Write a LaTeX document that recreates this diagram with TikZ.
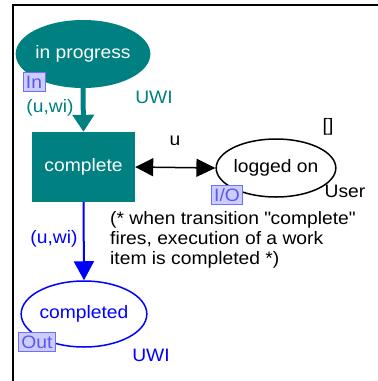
\documentclass[tikz,border=0pt]{standalone}
\usepackage{fontspec}
\setmainfont{Liberation Sans}[FakeStretch=1.07]
\usetikzlibrary{shapes.geometric,arrows.meta}
\newcommand\straightdq{\XeTeXglyph\XeTeXcharglyph"22\relax}
\definecolor{teal}{RGB}{0,128,128}
\definecolor{cpnblue}{RGB}{0,0,255}
\definecolor{tagfill}{RGB}{204,204,255}
\definecolor{tagdraw}{RGB}{110,110,255}
\definecolor{tagtext}{RGB}{90,90,230}
\tikzset{
  every node/.style={font=\fontsize{18}{20}\selectfont, inner sep=0pt},
  place/.style={ellipse, draw, line width=1.5pt},
  trans/.style={rectangle, fill=teal, text=white, minimum width=103pt, minimum height=70pt},
  tag/.style={draw=tagdraw, fill=tagfill, text=tagtext, line width=0.8pt,
              inner xsep=3pt, inner ysep=1pt, minimum height=19pt},
}
\begin{document}
\begin{tikzpicture}[x=1pt,y=-1pt]
\useasboundingbox (0,0) rectangle (378,381);
% frame
\draw[line width=2.5pt] (13,381) -- (13,5) -- (378,5);
% places and transition
\node[ellipse, fill=teal, text=white, minimum width=132pt, minimum height=68pt] (ip) at (83,54) {in progress};
\node[trans] (cp) at (83.5,167) {complete};
\node[place, draw=black, minimum width=118pt, minimum height=58pt] (lo) at (276,168) {logged on};
\node[place, draw=cpnblue, text=cpnblue, minimum width=118pt, minimum height=66pt] (cd) at (84,314) {completed};
% port tags
\node[tag] (tin) at (34,82) {In};
\node[tag] (tio) at (227,195) {I/O};
\node[tag] (tout) at (37,342) {Out};
% types and markings
\node[text=teal] (t1) at (154,97) {UWI};
\node[text=cpnblue] (t2) at (151,355) {UWI};
\node (t3) at (345,191) {User};
\node (m1) at (328,127) {[]};
% arcs
\draw[teal, line width=5pt, -{Triangle[length=17pt,width=21pt]}] (ip.south) -- (cp.north);
\draw[black, line width=1.5pt, {Triangle[length=18pt,width=18pt]}-{Triangle[length=19pt,width=18pt]}] (cp.east) -- (lo.west);
\draw[cpnblue, line width=2pt, -{Triangle[length=19pt,width=20pt]}] (cp.south) -- (cd.north);
% arc inscriptions
\node[text=teal] (a1) at (50,108) {(u,wi)};
\node (a2) at (175,141) {u};
\node[text=cpnblue] (a3) at (54,239) {(u,wi)};
% comment
\node[anchor=west, align=left] (c1) at (110,239.5) {(* when transition \straightdq complete\straightdq\\fires, execution of a work\\item is completed *)};
\end{tikzpicture}
\end{document}
